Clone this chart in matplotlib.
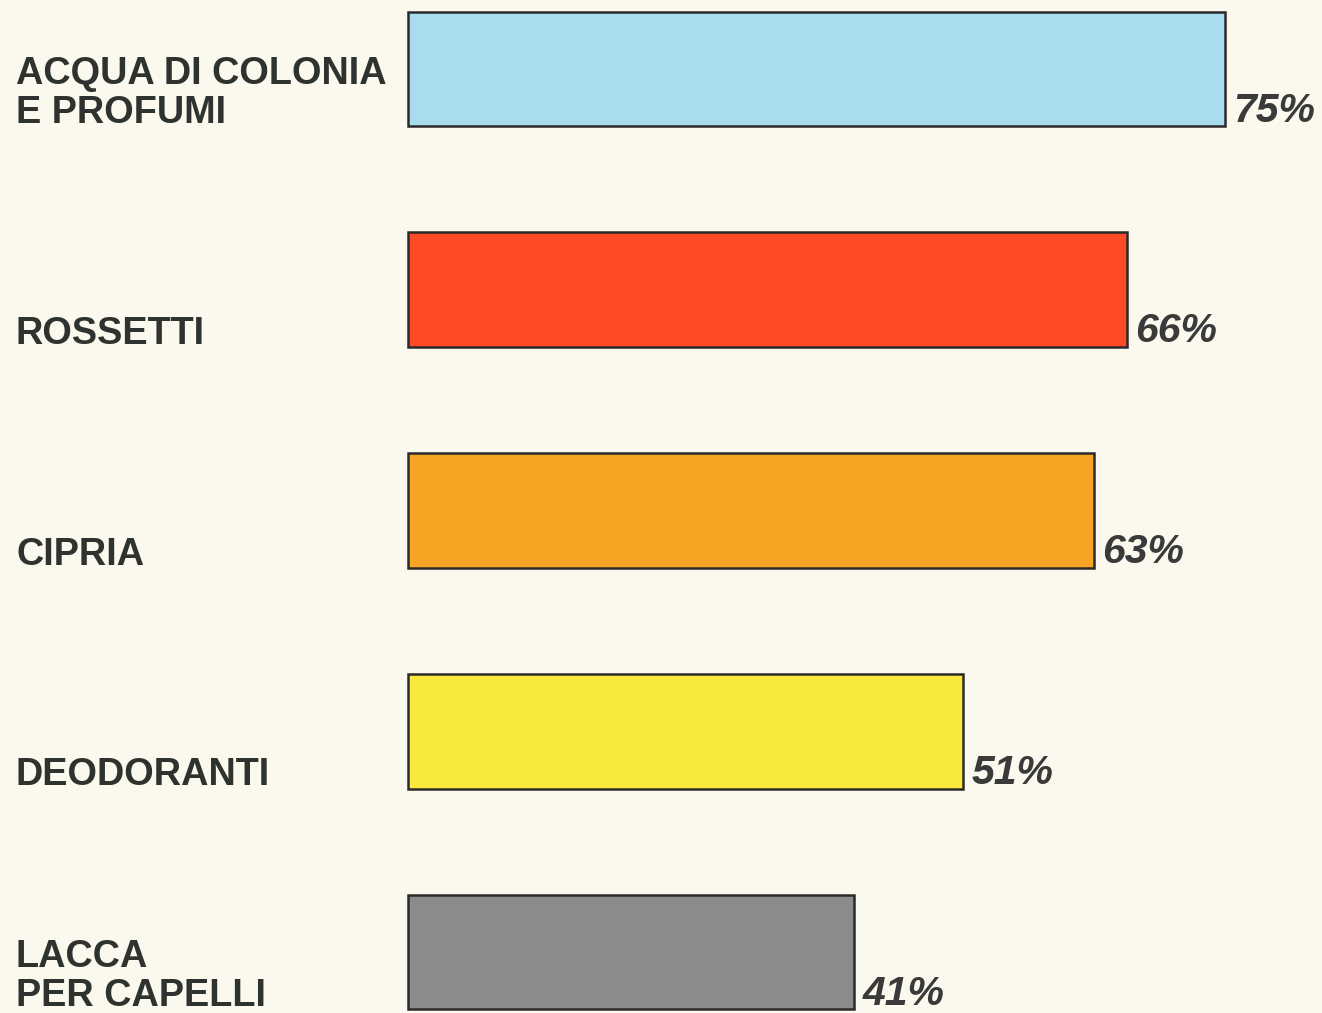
import matplotlib.pyplot as plt
import matplotlib.transforms as mtransforms

# Data
categories = ['ACQUA DI COLONIA\nE PROFUMI', 'ROSSETTI', 'CIPRIA', 'DEODORANTI', 'LACCA\nPER CAPELLI']
values = [75, 66, 63, 51, 41]
colors = ['#a9dcee', '#ff4b26', '#f7a323', '#f9e93c', '#8b8b8b']

bg = '#fbf9ee'
ink = '#2f332f'

fig = plt.figure(figsize=(13.22, 10.13), dpi=100, facecolor=bg)
ax = fig.add_axes([0, 0, 1, 1])
ax.set_facecolor(bg)

ypos = list(range(len(values)))
bar_h = 0.52
ax.barh(ypos, values, height=bar_h, color=colors, edgecolor='#2a2a2a', linewidth=1.8)

ax.set_xlim(-37.4, 83.9)
ax.set_ylim(4.276, -0.3126)
ax.axis('off')

# category labels at left margin, baseline on the bar's lower edge
trans = mtransforms.blended_transform_factory(fig.transFigure, ax.transData)
for y, name in zip(ypos, categories):
    ax.text(16 / 1322, y + bar_h / 2 - 0.015, name, transform=trans,
            ha='left', va='baseline', fontsize=27.3, fontweight='bold',
            family='Liberation Sans', color=ink, linespacing=1.1)

# value labels right of each bar
for y, v in zip(ypos, values):
    ax.text(v + 0.75, y + bar_h / 2 - 0.022, f'{v}%', ha='left', va='baseline',
            fontsize=29.5, fontweight='bold', fontstyle='italic',
            family='Liberation Sans', color='#3a3a3a')

fig.savefig('out.png', dpi=100, facecolor=bg)
